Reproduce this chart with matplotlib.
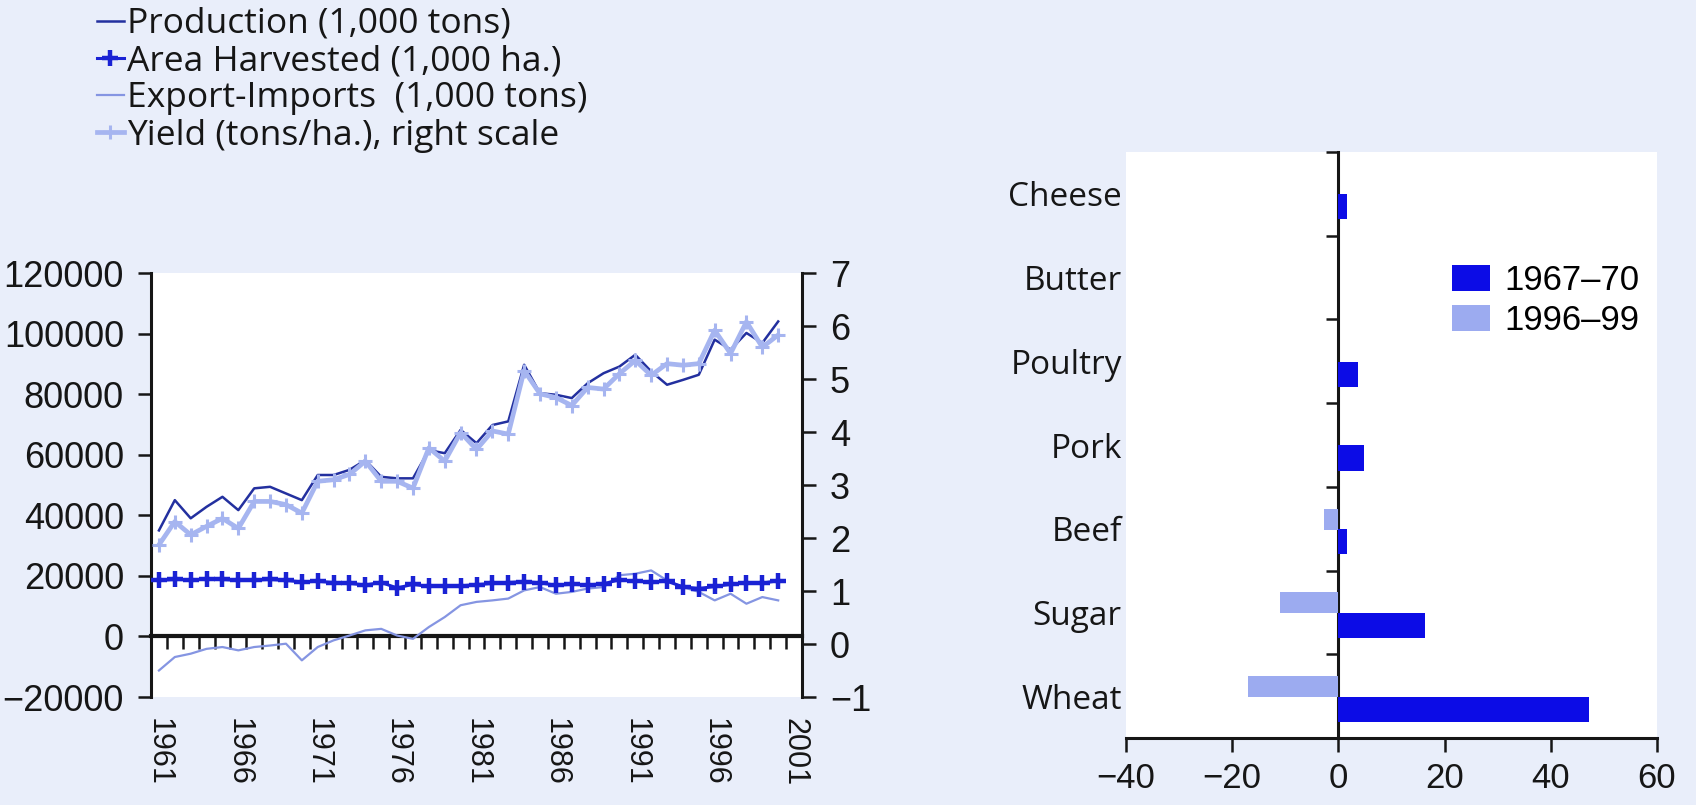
import matplotlib
matplotlib.use('Agg')
import matplotlib.pyplot as plt
import numpy as np

# wheat balance, 1961-2000
years = list(range(1961, 2001))
production = [35000, 45000, 39000, 42800, 46100, 41700, 48900, 49400, 47200, 45000,
              53300, 53300, 55000, 58200, 52700, 52200, 52200, 61500, 60500, 68200,
              63800, 69800, 71000, 89700, 80300, 79800, 78700, 83600, 86900, 89100,
              93000, 87500, 83100, 84700, 86400, 98000, 94700, 100200, 96900, 104000]
area_harvested = [18500, 18800, 18700, 18900, 18800, 18500, 18600, 18800, 18500, 18000,
                  18200, 17800, 17500, 17000, 17800, 16000, 17200, 16500, 16800, 16700,
                  17100, 17500, 17800, 18100, 17700, 16900, 17200, 17000, 17400, 18700,
                  18200, 18000, 18200, 16400, 15800, 16500, 17200, 17800, 17600, 18400]
export_imports = [-11250, -6800, -5700, -4100, -3500, -4600, -3500, -3000, -2400, -7900,
                  -3500, -1300, 300, 2000, 2500, 300, -800, 3100, 6400, 10300,
                  11400, 11900, 12500, 15200, 16300, 14100, 14700, 15800, 16300, 20200,
                  20700, 21800, 18500, 16300, 14700, 11900, 14100, 10800, 13000, 11900]
yield_t_ha = [1.87, 2.31, 2.06, 2.22, 2.37, 2.18, 2.69, 2.69, 2.63, 2.47,
              3.07, 3.10, 3.20, 3.45, 3.07, 3.07, 2.94, 3.70, 3.45, 3.99,
              3.67, 4.02, 3.96, 5.16, 4.72, 4.65, 4.50, 4.84, 4.81, 5.10,
              5.35, 5.07, 5.29, 5.26, 5.29, 5.92, 5.48, 6.08, 5.60, 5.83]
year_labels = list(range(1961, 2002, 5))

# net trade by product
products = ['Cheese', 'Butter', 'Poultry', 'Pork', 'Beef', 'Sugar', 'Wheat']
net_1967_70 = [1.7, 0.0, 3.6, 4.75, 1.7, 16.4, 47.1]
net_1996_99 = [0.0, 0.0, 0.0, 0.0, -2.75, -11.0, -17.1]

W, H = 1696, 805
fig = plt.figure(figsize=(W / 100, H / 100), dpi=100, facecolor='#e9eefa')

num_font = ['Liberation Sans', 'DejaVu Sans']
txt_font = ['Open Sans', 'DejaVu Sans']
ink = '#161616'

# ---- left chart ----
ax = fig.add_axes([151 / W, 1 - 697 / H, 651 / W, 424 / H])
ax.set_facecolor('white')
ax.plot(years, production, color='#23309f', lw=1.8, label='Production (1,000 tons)', zorder=4)
ax.plot(years, area_harvested, color='#1a22d4', lw=2.2, marker='+', ms=11, mew=3.2,
        label='Area Harvested (1,000 ha.)', zorder=5)
ax.plot(years, export_imports, color='#8595e2', lw=1.6, label='Export-Imports  (1,000 tons)', zorder=3)
ax.set_xlim(1960.5, 2001.5)
ax.set_ylim(-20000, 120000)
ax.set_yticks(range(-20000, 120001, 20000))
ax.tick_params(axis='y', direction='out', length=9.5, width=1.8, pad=10, labelsize=26,
               colors=ink)
for lab in ax.get_yticklabels():
    lab.set_family(num_font)

ax.spines['top'].set_visible(False)
ax.spines['right'].set_visible(False)
ax.spines['left'].set_linewidth(2.2)
ax.spines['left'].set_color(ink)
ax.spines['bottom'].set_position(('data', 0))
ax.spines['bottom'].set_linewidth(3)
ax.spines['bottom'].set_color(ink)
ax.set_xticks(np.arange(1961.5, 2001, 1.0))
ax.tick_params(axis='x', direction='out', length=9, width=1.8, labelbottom=False, colors=ink)

sec = ax.secondary_xaxis('bottom')
sec.set_xticks(year_labels)
sec.set_xticklabels([str(y) for y in year_labels], rotation=-90, fontsize=22, family=num_font)
sec.tick_params(length=0, pad=15, colors=ink)
sec.spines['bottom'].set_visible(False)

ax2 = ax.twinx()
ax2.plot(years, yield_t_ha, color='#a6b5f0', lw=3.4, marker='+', ms=10, mew=2.2,
         label='Yield (tons/ha.), right scale', zorder=2)
ax2.set_ylim(-1, 7)
ax2.set_yticks(range(-1, 8))
ax2.tick_params(axis='y', direction='out', length=10, width=1.8, pad=10, labelsize=26,
                colors=ink)
for lab in ax2.get_yticklabels():
    lab.set_family(num_font)
for s in ['top', 'left', 'bottom']:
    ax2.spines[s].set_visible(False)
ax2.spines['right'].set_linewidth(2.2)
ax2.spines['right'].set_color(ink)

h1, l1 = ax.get_legend_handles_labels()
h2, l2 = ax2.get_legend_handles_labels()
fig.legend(h1 + h2, l1 + l2, loc='upper left', bbox_to_anchor=(97 / W, 1 - 7 / H),
           frameon=False, prop={'family': txt_font, 'size': 25.5}, handlelength=0.75,
           handletextpad=0.1, labelspacing=0.09, borderpad=0, borderaxespad=0,
           numpoints=1, labelcolor=ink)

# ---- right chart ----
bx = fig.add_axes([1126 / W, 1 - 738 / H, 531 / W, 586 / H])
bx.set_facecolor('white')
pos = np.arange(len(products))
bx.barh(pos + 0.155, net_1967_70, height=0.30, color='#0c0ce6', label='1967\u201370', zorder=3)
bx.barh(pos - 0.115, net_1996_99, height=0.25, color='#9cabf0', label='1996\u201399', zorder=3)
bx.set_xlim(-40, 60)
bx.set_ylim(len(products) - 0.5, -0.5)
bx.set_xticks(range(-40, 61, 20))
bx.set_xticklabels(['\u221240', '\u221220', '0', '20', '40', '60'])
bx.tick_params(axis='x', direction='out', length=10, width=1.8, pad=7, labelsize=25,
               colors=ink)
for lab in bx.get_xticklabels():
    lab.set_family(num_font)
bx.spines['left'].set_position(('data', 0))
bx.spines['left'].set_linewidth(2.2)
bx.spines['left'].set_color(ink)
bx.spines['bottom'].set_linewidth(2.2)
bx.spines['bottom'].set_color(ink)
bx.spines['top'].set_visible(False)
bx.spines['right'].set_visible(False)
bx.set_yticks(np.arange(-0.5, len(products), 1.0))
bx.tick_params(axis='y', direction='out', length=9, width=1.8, labelleft=False, colors=ink)

bsec = bx.secondary_yaxis('left')
bsec.set_yticks(pos)
bsec.set_yticklabels(products, fontsize=24, family=txt_font, color=ink)
bsec.tick_params(length=0, pad=3)
bsec.spines['left'].set_visible(False)

bx.legend(loc='upper left', bbox_to_anchor=(1452 / W, 1 - 264 / H), bbox_transform=fig.transFigure,
          frameon=False, prop={'family': num_font, 'size': 25}, handlelength=1.1,
          handleheight=0.75, handletextpad=0.4, labelspacing=0.2, borderpad=0, borderaxespad=0)

fig.savefig('out.png', dpi=100, facecolor=fig.get_facecolor())
